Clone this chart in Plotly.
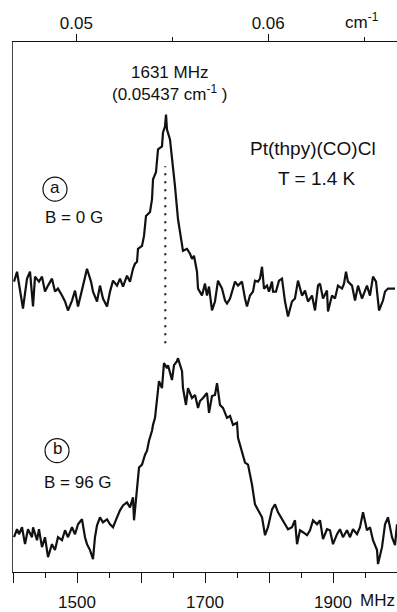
import plotly.graph_objects as go

# ---- data (frequency in MHz, signal in arbitrary units) ----
freq_a = [1401.6, 1406.3, 1415.6, 1421.9, 1426.6, 1431.3, 1434.4, 1440.6, 1445.3, 1450.0,
          1454.7, 1460.9, 1465.6, 1470.3, 1476.6, 1481.3, 1485.9, 1492.2, 1496.9, 1501.6,
          1509.4, 1515.6, 1521.9, 1525.0, 1531.3, 1535.9, 1540.6, 1546.9, 1551.6, 1556.3,
          1562.5, 1567.2, 1571.9, 1578.1, 1582.8, 1587.5, 1590.6, 1593.8, 1595.3, 1601.6,
          1604.7, 1607.8, 1614.1, 1617.2, 1618.8, 1623.4, 1626.6, 1632.8, 1634.4, 1637.5,
          1639.1, 1640.6, 1645.3, 1648.4, 1653.1, 1657.8, 1664.1, 1665.6, 1671.9, 1676.6,
          1679.7, 1682.8, 1687.5, 1689.1, 1695.3, 1700.0, 1703.1, 1706.3, 1710.9, 1715.6,
          1720.3, 1726.6, 1731.3, 1734.4, 1739.1, 1746.9, 1751.6, 1757.8, 1762.5, 1765.6,
          1770.3, 1775.0, 1778.1, 1782.8, 1785.9, 1789.1, 1792.2, 1796.9, 1800.0, 1804.7,
          1806.3, 1810.9, 1815.6, 1820.3, 1825.0, 1829.7, 1835.9, 1840.6, 1845.3, 1851.6,
          1856.3, 1860.9, 1867.2, 1871.9, 1876.6, 1879.7, 1884.4, 1890.6, 1892.2, 1898.4,
          1903.1, 1907.8, 1914.1, 1917.2, 1920.3, 1923.4, 1929.7, 1934.4, 1939.1, 1945.3,
          1953.1, 1957.8, 1962.5, 1967.2, 1971.9, 1978.1, 1981.3, 1985.9, 1992.2, 1996.9]
signal_a = [29.2, 30.2, 26.5, 29.5, 30.2, 26.7, 29.7, 29.2, 29.7, 28.2,
            28.8, 29.5, 28.2, 28.5, 27.8, 27.2, 26.3, 27.3, 28.3, 26.7,
            28.8, 30.5, 29.2, 28.2, 27.2, 28.8, 27.5, 26.7, 28.2, 29.3,
            28.8, 29.5, 28.7, 29.8, 29.2, 30.5, 31.0, 31.2, 32.5, 32.8,
            33.8, 35.8, 36.2, 37.5, 39.5, 40.2, 42.5, 42.8, 44.2, 44.8,
            46.0, 44.5, 43.5, 41.8, 38.8, 35.5, 32.8, 32.3, 32.5, 32.0,
            31.5, 31.8, 30.2, 28.5, 27.8, 29.0, 27.8, 28.7, 26.3, 27.2,
            29.3, 28.5, 27.3, 27.0, 27.5, 29.2, 28.8, 29.2, 27.5, 26.7,
            27.8, 28.2, 29.3, 29.2, 29.5, 30.7, 28.5, 28.8, 28.2, 29.2,
            28.2, 28.2, 29.3, 29.5, 27.2, 25.7, 27.2, 27.5, 29.3, 27.8,
            28.3, 27.2, 27.8, 26.3, 28.8, 29.0, 27.5, 28.3, 26.2, 27.8,
            27.5, 28.8, 28.5, 29.0, 30.2, 29.2, 28.8, 27.3, 28.8, 27.5,
            28.8, 27.8, 29.7, 29.2, 26.3, 27.3, 28.2, 28.5, 28.5, 28.5]

freq_b = [1401.6, 1406.3, 1409.4, 1414.1, 1418.8, 1423.4, 1429.7, 1431.3, 1437.5, 1440.6,
          1445.3, 1450.0, 1454.7, 1460.9, 1465.6, 1470.3, 1476.6, 1481.3, 1485.9, 1492.2,
          1496.9, 1501.6, 1507.8, 1512.5, 1515.6, 1520.3, 1525.0, 1528.1, 1531.3, 1535.9,
          1540.6, 1546.9, 1551.6, 1556.3, 1562.5, 1567.2, 1571.9, 1578.1, 1582.8, 1587.5,
          1589.1, 1593.8, 1596.9, 1601.6, 1606.3, 1609.4, 1612.5, 1617.2, 1618.8, 1621.9,
          1625.0, 1628.1, 1632.8, 1635.9, 1640.6, 1642.2, 1648.4, 1651.6, 1656.3, 1657.8,
          1664.1, 1665.6, 1670.3, 1673.4, 1679.7, 1684.4, 1689.1, 1692.2, 1696.9, 1703.1,
          1706.3, 1710.9, 1715.6, 1718.8, 1723.4, 1728.1, 1734.4, 1739.1, 1743.8, 1750.0,
          1751.6, 1757.8, 1762.5, 1767.2, 1773.4, 1778.1, 1782.8, 1789.1, 1793.8, 1798.4,
          1804.7, 1809.4, 1814.1, 1820.3, 1825.0, 1829.7, 1835.9, 1840.6, 1843.8, 1848.4,
          1853.1, 1859.4, 1864.1, 1868.8, 1875.0, 1879.7, 1884.4, 1890.6, 1895.3, 1900.0,
          1906.3, 1910.9, 1915.6, 1921.9, 1926.6, 1931.3, 1937.5, 1942.2, 1946.9, 1953.1,
          1957.8, 1962.5, 1968.8, 1970.3, 1976.6, 1981.3, 1985.9, 1992.2, 1996.9, 2000.0]
signal_b = [3.5, 4.3, 3.8, 4.5, 2.8, 4.3, 3.5, 4.5, 3.2, 4.3,
            2.5, 3.5, 1.5, 2.8, 2.2, 3.5, 3.2, 4.2, 3.5, 4.5,
            3.8, 4.8, 5.3, 3.5, 2.8, 2.2, 1.3, 3.5, 4.7, 5.5,
            5.0, 5.3, 4.8, 4.5, 5.5, 6.2, 6.7, 7.0, 6.5, 7.5,
            5.2, 8.5, 10.5, 10.8, 11.8, 12.2, 13.2, 14.2, 14.8, 15.5,
            17.2, 19.2, 18.5, 21.0, 20.5, 20.8, 19.3, 20.8, 21.2, 21.5,
            20.2, 18.5, 16.8, 18.5, 17.5, 17.8, 16.5, 17.2, 17.5, 18.0,
            16.0, 17.7, 17.8, 19.0, 16.8, 16.5, 15.5, 15.7, 14.8, 15.0,
            13.5, 12.2, 11.0, 10.8, 8.8, 6.8, 6.3, 5.5, 3.7, 4.5,
            6.3, 6.8, 6.0, 5.3, 4.8, 4.3, 4.5, 5.2, 2.8, 4.2,
            4.0, 3.7, 4.2, 5.2, 4.8, 5.2, 3.3, 4.3, 4.2, 2.8,
            3.8, 4.3, 3.5, 4.2, 3.5, 4.3, 3.8, 4.5, 6.0, 4.2,
            4.5, 3.2, 2.2, 0.8, 2.5, 4.8, 5.5, 3.5, 2.7, 4.8]

mhz_range = [1400, 2000]
signal_range = [0, 53.3]
MHZ_PER_CM = 29979.2458

mhz_ticks = [1400, 1500, 1600, 1700, 1800, 1900, 2000]
mhz_ticktext = [" ", "1500", " ", "1700", " ", "1900", " "]
mhz_minor = [1450, 1550, 1650, 1750, 1850, 1950]
cm_ticks = [0.05, 0.06]
cm_ticktext = ["0.05", "0.06"]
cm_minor = [0.055, 0.065]

peak_mhz = 1638
dotted_span = [23.0, 40.8]

FONT = "Arial, 'Liberation Sans', sans-serif"
INK = "#111111"

fig = go.Figure()
fig.add_trace(go.Scatter(x=freq_a, y=signal_a, mode="lines",
                         line=dict(color=INK, width=2.2), showlegend=False, hoverinfo="skip"))
fig.add_trace(go.Scatter(x=freq_b, y=signal_b, mode="lines",
                         line=dict(color=INK, width=2.2), showlegend=False, hoverinfo="skip"))
# invisible trace to anchor top (cm^-1) axis
fig.add_trace(go.Scatter(x=[mhz_range[0] / MHZ_PER_CM, mhz_range[1] / MHZ_PER_CM],
                         y=[0, 0], xaxis="x2", mode="markers", marker=dict(opacity=0),
                         showlegend=False, hoverinfo="skip"))

fig.update_layout(
    width=397, height=612,
    margin=dict(l=13, r=0, t=42, b=37),
    paper_bgcolor="white", plot_bgcolor="white",
    font=dict(family=FONT, size=17, color=INK),
    xaxis=dict(range=mhz_range, tickmode="array", tickvals=mhz_ticks, ticktext=mhz_ticktext,
               ticks="outside", ticklen=10, tickwidth=1.3, tickcolor=INK,
               minor=dict(tickvals=mhz_minor, ticks="outside", ticklen=5, tickwidth=1.3, tickcolor=INK),
               showline=True, linecolor=INK, linewidth=1.3, showgrid=False, zeroline=False,
               tickfont=dict(size=17), ticklabelstandoff=4, fixedrange=True),
    xaxis2=dict(range=[mhz_range[0] / MHZ_PER_CM, mhz_range[1] / MHZ_PER_CM], overlaying="x",
                side="top", anchor="y", tickmode="array", tickvals=cm_ticks, ticktext=cm_ticktext,
                ticks="outside", ticklen=7, tickwidth=1.3, tickcolor=INK,
                minor=dict(tickvals=cm_minor, ticks="outside", ticklen=4, tickwidth=1.3, tickcolor=INK),
                showline=True, linecolor=INK, linewidth=1.3, showgrid=False, zeroline=False,
                tickfont=dict(size=17), ticklabelstandoff=-2, fixedrange=True),
    yaxis=dict(range=signal_range, showticklabels=False, ticks="", showline=True,
               linecolor="#444444", linewidth=1.2, showgrid=False, zeroline=False, fixedrange=True),
)

# dotted line marking the zero-field peak
fig.add_shape(type="line", x0=peak_mhz, x1=peak_mhz, y0=dotted_span[0], y1=dotted_span[1],
              line=dict(color=INK, width=2, dash="2px,6px"))

# circled labels
for cx, cy in [(1465.6, 38.5), (1468.8, 12.2)]:
    fig.add_shape(type="circle", xsizemode="pixel", ysizemode="pixel", xanchor=cx, yanchor=cy,
                  x0=-12, x1=12, y0=-12, y1=12, line=dict(color=INK, width=1.2))

annos = [
    ("1631 MHz", 1645.3, 50.2, 17),
    ("(0.05437 cm<sup>-1</sup> )", 1643.8, 48.2, 17),
    ("Pt(thpy)(CO)Cl", 1868.8, 42.6, 19),
    ("T = 1.4 K", 1875.0, 39.6, 19),
    ("a", 1465.6, 38.7, 17),
    ("B = 0 G", 1495.3, 35.7, 17),
    ("b", 1468.8, 12.4, 17),
    ("B = 96 G", 1501.6, 9.0, 17),
]
for txt, x, y, sz in annos:
    fig.add_annotation(text=txt, x=x, y=y, xref="x", yref="y", showarrow=False,
                       xanchor="center", yanchor="middle", font=dict(size=sz, family=FONT, color=INK))

# unit labels
fig.add_annotation(text="MHz", xref="paper", yref="paper", x=1, y=0, xanchor="right",
                   yanchor="middle", yshift=-28, showarrow=False, font=dict(size=17, family=FONT, color=INK))
fig.add_annotation(text="cm<sup>-1</sup>", xref="paper", yref="paper", x=0.91, y=1, xanchor="center",
                   yanchor="middle", yshift=21, showarrow=False, font=dict(size=17, family=FONT, color=INK))

fig.write_html("out.html", config={"displayModeBar": False},
               post_script="document.body.style.margin='0';document.body.style.overflow='hidden';")
